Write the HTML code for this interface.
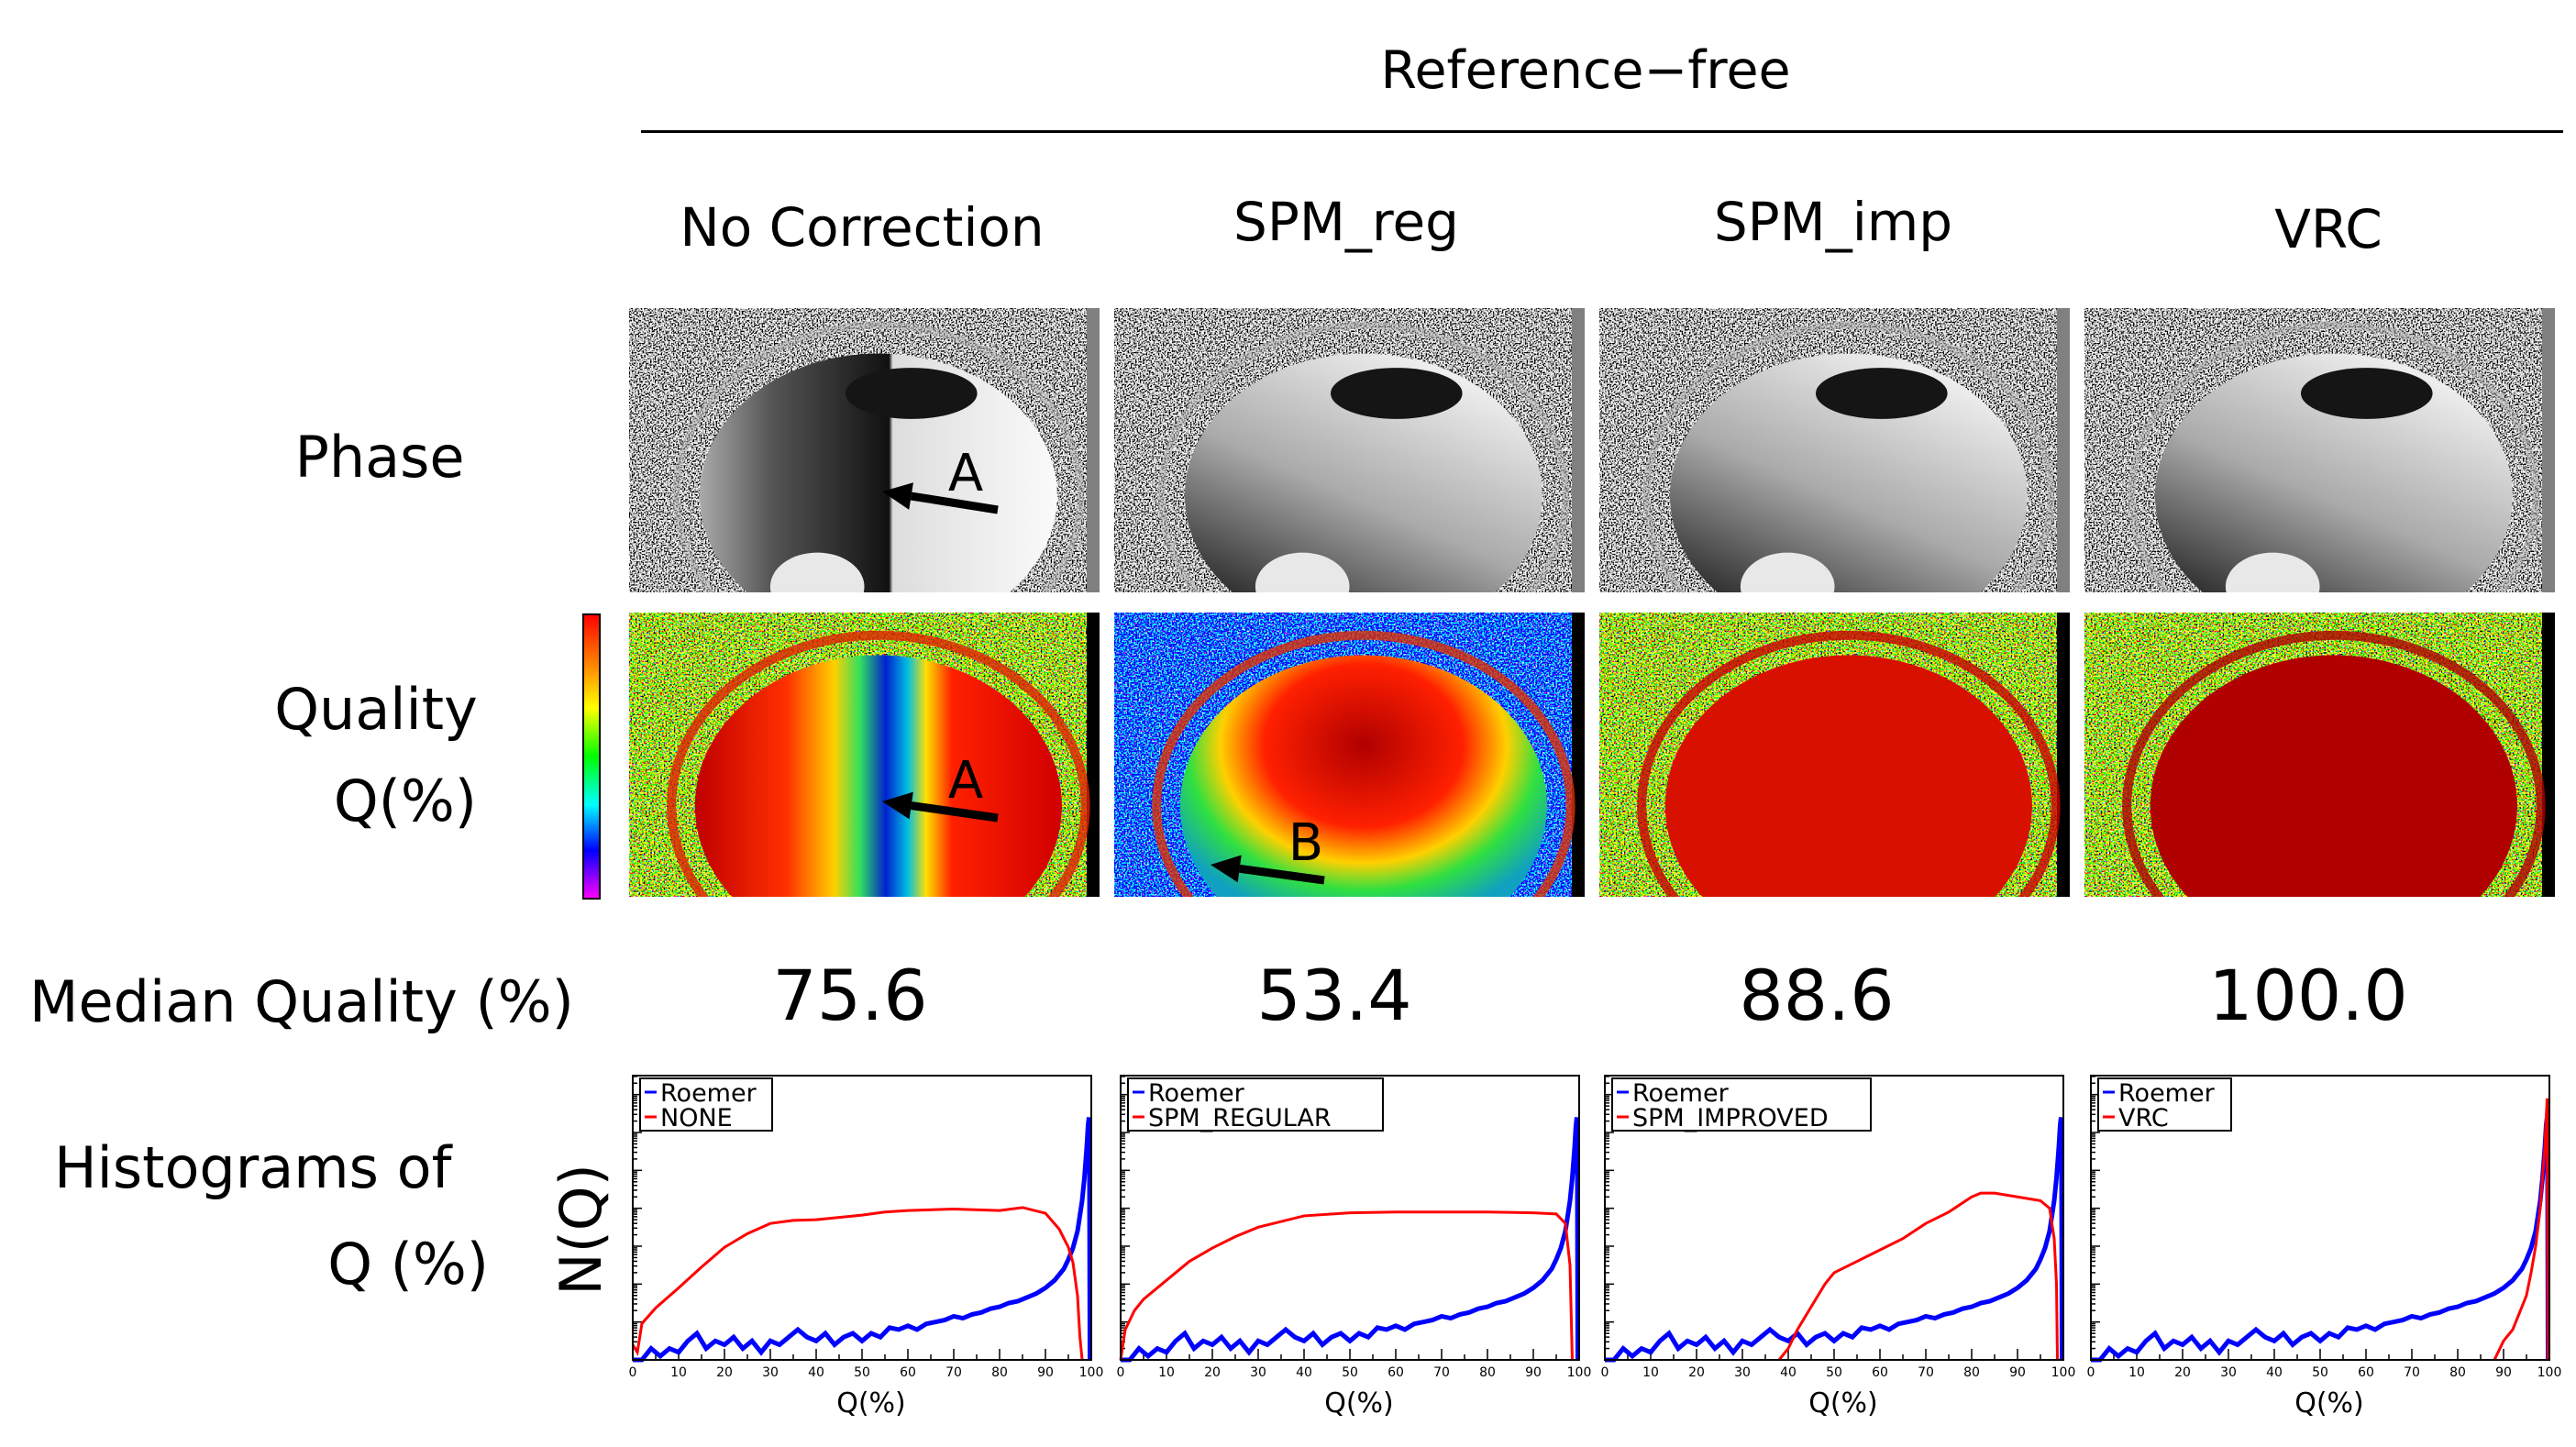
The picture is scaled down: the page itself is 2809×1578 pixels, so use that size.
<!DOCTYPE html>
<html><head><meta charset="utf-8"><style>
html,body{margin:0;padding:0;background:#fff}
svg{display:block}
text{font-family:"DejaVu Sans","Liberation Sans",sans-serif;fill:#000}
</style></head><body>
<svg id="fig" width="2809" height="1578" viewBox="0 0 2809 1578" xmlns="http://www.w3.org/2000/svg">
<defs>
<filter id="grayNoise" x="0" y="0" width="100%" height="100%">
<feTurbulence type="fractalNoise" baseFrequency="0.6" numOctaves="1" seed="4"/>
<feColorMatrix type="matrix" values="5 0 0 0 -2.0  5 0 0 0 -2.0  5 0 0 0 -2.0  0 0 0 0 1"/>
</filter>
<filter id="colorNoise" x="0" y="0" width="100%" height="100%">
<feTurbulence type="fractalNoise" baseFrequency="0.55" numOctaves="1" seed="7"/>
<feColorMatrix type="matrix" values="8 0 0 0 -3.5  0 8 0 0 -3.0  0 0 8 0 -4.6  0 0 0 0 1"/>
</filter>
<filter id="blueNoise" x="0" y="0" width="100%" height="100%">
<feTurbulence type="fractalNoise" baseFrequency="0.55" numOctaves="1" seed="9"/>
<feColorMatrix type="matrix" values="8 0 0 0 -4.8  0 8 0 0 -3.9  0 0 6 0 -1.2  0 0 0 0 1"/>
</filter>
<linearGradient id="ph1" x1="0" y1="0" x2="1" y2="0">
<stop offset="0" stop-color="#aaa"/><stop offset="0.2" stop-color="#555"/><stop offset="0.53" stop-color="#111"/><stop offset="0.54" stop-color="#ddd"/><stop offset="1" stop-color="#fafafa"/></linearGradient>
<linearGradient id="ph2" x1="0.8" y1="0.1" x2="0.3" y2="1">
<stop offset="0" stop-color="#eee"/><stop offset="0.5" stop-color="#aaa"/><stop offset="1" stop-color="#222"/></linearGradient>
<linearGradient id="q1" x1="0" y1="0" x2="1" y2="0">
<stop offset="0" stop-color="#c00000"/><stop offset="0.25" stop-color="#ff3000"/><stop offset="0.38" stop-color="#ffd000"/><stop offset="0.45" stop-color="#30e060"/><stop offset="0.52" stop-color="#0020d0"/><stop offset="0.58" stop-color="#00c0e0"/><stop offset="0.63" stop-color="#ffe000"/><stop offset="0.7" stop-color="#ff2000"/><stop offset="1" stop-color="#d00000"/></linearGradient>
<radialGradient id="q2" cx="0.5" cy="0.3" r="0.6">
<stop offset="0" stop-color="#b00000"/><stop offset="0.45" stop-color="#ff2000"/><stop offset="0.65" stop-color="#ffd000"/><stop offset="0.8" stop-color="#30e040"/><stop offset="1" stop-color="#10a0c0"/></radialGradient>
<linearGradient id="cbar" x1="0" y1="1" x2="0" y2="0">
<stop offset="0" stop-color="#ff00ff"/><stop offset="0.17" stop-color="#0000ff"/><stop offset="0.33" stop-color="#00ffff"/><stop offset="0.5" stop-color="#00ff00"/><stop offset="0.67" stop-color="#ffff00"/><stop offset="0.83" stop-color="#ff8000"/><stop offset="1" stop-color="#ff0000"/></linearGradient>
</defs>

<text x="1729" y="96" font-size="57" text-anchor="middle">Reference−free</text>
<rect x="699" y="142" width="2096" height="3" fill="#000"/>

<text x="940" y="268" font-size="58" text-anchor="middle">No Correction</text>
<text x="1468" y="262" font-size="58" text-anchor="middle">SPM_reg</text>
<text x="1999" y="262" font-size="58" text-anchor="middle">SPM_imp</text>
<text x="2539" y="270" font-size="58" text-anchor="middle">VRC</text>

<text x="414" y="520" font-size="62" text-anchor="middle">Phase</text>
<text x="410" y="795" font-size="62" text-anchor="middle">Quality</text>
<text x="520" y="895" font-size="62" text-anchor="end">Q(%)</text>
<text x="32" y="1114" font-size="62">Median Quality (%)</text>
<text x="59" y="1295" font-size="62">Histograms of</text>
<text x="533" y="1400" font-size="62" text-anchor="end">Q (%)</text>
<text transform="translate(655,1341) rotate(-90)" font-size="62" text-anchor="middle">N(Q)</text>

<text x="927" y="1112" font-size="76" text-anchor="middle">75.6</text>
<text x="1455" y="1112" font-size="76" text-anchor="middle">53.4</text>
<text x="1981" y="1112" font-size="76" text-anchor="middle">88.6</text>
<text x="2517" y="1112" font-size="76" text-anchor="middle">100.0</text>

<rect x="636" y="670" width="18" height="310" fill="url(#cbar)" stroke="#000" stroke-width="2"/>

<g id="images"></g>
<g id="hists"></g>
</svg>
<script>
// ---- histogram data (log10 counts, decades above axis) ----
const blueQ = [0,2,4,6,8,10,12,14,16,18,20,22,24,26,28,30,32,34,36,38,40,42,44,46,48,50,52,54,56,58,60,62,64,66,68,70,72,74,76,78,80,82,84,86,88,90,92,94,95,96,97,98,98.5,99,99.3,99.5,99.6,99.7];
const blueV = [0,0,0.3,0.1,0.3,0.2,0.5,0.7,0.3,0.5,0.4,0.6,0.3,0.5,0.2,0.5,0.4,0.6,0.8,0.6,0.5,0.7,0.4,0.6,0.7,0.5,0.7,0.6,0.85,0.8,0.9,0.8,0.95,1.0,1.05,1.15,1.1,1.2,1.25,1.35,1.4,1.5,1.55,1.65,1.75,1.9,2.1,2.4,2.65,2.95,3.4,4.2,4.8,5.6,6.2,6.4,5.0,0];
const redQ1 = [0,1,2,5,10,15,20,25,30,35,40,50,55,60,70,80,85,90,93,95,96,97,97.5,98];
const redV1 = [0.4,0.2,0.96,1.37,1.9,2.45,2.97,3.33,3.6,3.68,3.7,3.82,3.9,3.94,3.98,3.94,4.02,3.87,3.45,2.97,2.57,1.69,0.64,0];
const redQ2 = [0,1,3,5,10,15,20,25,30,40,50,60,70,80,90,95,97,98,98.5];
const redV2 = [0,0.8,1.3,1.6,2.1,2.6,2.95,3.25,3.5,3.8,3.88,3.9,3.9,3.9,3.88,3.85,3.6,2.5,0];
const redQ3 = [38,40,42,45,48,50,55,60,65,70,75,80,82,85,90,95,97,98,98.5,98.7];
const redV3 = [0,0.3,0.8,1.4,2.0,2.3,2.6,2.9,3.2,3.6,3.9,4.3,4.4,4.4,4.3,4.2,4.0,3.2,2.0,0];
const redQ4 = [88,90,92,94,95,96,97,98,99,99.5,99.7];
const redV4 = [0,0.5,0.8,1.4,1.7,2.3,3.0,4.0,5.6,6.9,0];
const xTicks = [0,10,20,30,40,50,60,70,80,90,100];
const legendNames = ["NONE","SPM_REGULAR","SPM_IMPROVED","VRC"];
const redSeries = [[redQ1,redV1],[redQ2,redV2],[redQ3,redV3],[redQ4,redV4]];

const NS="http://www.w3.org/2000/svg";
function mk(tag,attrs,parent){const e=document.createElementNS(NS,tag);for(const k in attrs)e.setAttribute(k,attrs[k]);parent.appendChild(e);return e;}

// ---- images ----
const imgX=[686,1215,1744,2273], IW=513, PY=336, QY=668, IH=310;
const imgs=document.getElementById('images');
imgX.forEach((x,i)=>{
  const g=mk('g',{transform:`translate(${x},${PY})`},imgs);
  
  
  const cid='cp'+i; const cp=mk('clipPath',{id:cid},g); mk('rect',{x:0,y:0,width:IW,height:IH},cp);
  const gg=mk('g',{'clip-path':`url(#${cid})`},g);
  mk('rect',{x:0,y:0,width:IW-14,height:IH,fill:'#888',filter:'url(#grayNoise)'},gg);
  mk('rect',{x:IW-14,y:0,width:14,height:IH,fill:'#808080'},gg);
  mk('ellipse',{cx:IW*0.53,cy:IH*0.66,rx:IW*0.43,ry:IH*0.6,fill:'none',stroke:'#b0b0b0','stroke-width':8,opacity:0.5},gg);
  mk('ellipse',{cx:IW*0.53,cy:IH*0.66,rx:IW*0.38,ry:IH*0.5,fill:i==0?'url(#ph1)':'url(#ph2)'},gg);
  mk('ellipse',{cx:IW*0.6,cy:IH*0.3,rx:IW*0.14,ry:IH*0.09,fill:'#151515'},gg);
  mk('ellipse',{cx:IW*0.4,cy:IH*0.98,rx:IW*0.1,ry:IH*0.12,fill:'#e8e8e8'},gg);
  const q=mk('g',{transform:`translate(${x},${QY})`},imgs);
  
  
  const cq='cq'+i; const cpq=mk('clipPath',{id:cq},q); mk('rect',{x:0,y:0,width:IW,height:IH},cpq);
  const qg=mk('g',{'clip-path':`url(#${cq})`},q);
  mk('rect',{x:0,y:0,width:IW-14,height:IH,fill:'#888',filter:i==1?'url(#blueNoise)':'url(#colorNoise)'},qg);
  mk('rect',{x:IW-14,y:0,width:14,height:IH,fill:'#000'},qg);
  let ring = ['#e02000','#e03000','#cc0000','#b00000'][i];
  mk('ellipse',{cx:IW*0.53,cy:IH*0.68,rx:IW*0.44,ry:IH*0.6,fill:'none',stroke:ring,'stroke-width':10,opacity:0.8},qg);
  let fill = i==0?'url(#q1)':i==1?'url(#q2)':(i==2?'#d81000':'#b00000');
  mk('ellipse',{cx:IW*0.53,cy:IH*0.68,rx:IW*0.39,ry:IH*0.53,fill:fill},qg);
});
function arrow(x1,y1,x2,y2,name){
  const a=mk('g',{},imgs);
  
  
  const ang=Math.atan2(y2-y1,x2-x1), L=32, W=15;
  const bx=x2-L*Math.cos(ang), by=y2-L*Math.sin(ang);
  mk('line',{x1:x1,y1:y1,x2:bx,y2:by,stroke:'#000','stroke-width':9},a);
  mk('polygon',{points:`${x2},${y2} ${bx+W*Math.sin(ang)},${by-W*Math.cos(ang)} ${bx-W*Math.sin(ang)},${by+W*Math.cos(ang)}`,fill:'#000'},a);
}
arrow(1088,556,962,536,'arrow-a-phase');
const tA=mk('text',{x:1053,y:535,'font-size':56,'text-anchor':'middle'},imgs); tA.textContent='A';
 
arrow(1088,892,962,874,'arrow-a-quality');
const tA2=mk('text',{x:1053,y:870,'font-size':56,'text-anchor':'middle'},imgs); tA2.textContent='A';
 
arrow(1444,960,1320,943,'arrow-b-quality');
const tB=mk('text',{x:1424,y:938,'font-size':56,'text-anchor':'middle'},imgs); tB.textContent='B';
 

// ---- histograms ----
const hX=[690,1222,1750,2280], HW=500, HT=1173, HB=1483, DEC=7.5;
const hists=document.getElementById('hists');
function sx(i,q){return hX[i]+q/100*HW;}
function sy(v){return HB-v/DEC*(HB-HT);}
hX.forEach((x0,i)=>{
  const g=mk('g',{},hists);
  
  
  for(let d=0;d<8;d++){
    for(let m=1;m<10;m++){
      const v=d+Math.log10(m); if(v>DEC) break;
      const y=sy(v), len=m==1?10:5;
      mk('line',{x1:x0,y1:y,x2:x0+len,y2:y,stroke:'#000','stroke-width':1.5},g);
    }
  }
  for(let q=0;q<=100;q+=5){
    const major=q%10==0;
    mk('line',{x1:sx(i,q),y1:HB,x2:sx(i,q),y2:HB-(major?12:6),stroke:'#000','stroke-width':1.5},g);
  }
  xTicks.forEach(q=>{
    const t=mk('text',{x:sx(i,q),y:HB+18,'font-size':14,'text-anchor':'middle'},g);
    t.textContent=q;
    
    
  });
  const xl=mk('text',{x:x0+HW*0.52,y:1540,'font-size':30,'text-anchor':'middle'},g);
  xl.textContent='Q(%)';
  
  
  const pb=blueQ.map((q,k)=>sx(i,q)+','+sy(blueV[k])).join(' ');
  const bl=mk('polyline',{points:pb,fill:'none',stroke:'#0000ff','stroke-width':5},g);
  
  
  const [rq,rv]=redSeries[i];
  const pr=rq.map((q,k)=>sx(i,q)+','+sy(rv[k])).join(' ');
  const rl=mk('polyline',{points:pr,fill:'none',stroke:'#ff0000','stroke-width':3},g);
  
  
  mk('rect',{x:x0,y:HT,width:HW,height:HB-HT,fill:'none',stroke:'#000','stroke-width':2},g);
  const lw=[144,278,282,145][i];
  const lg=mk('g',{},g);
  
  
  mk('rect',{x:x0+8,y:HT+3,width:lw,height:57,fill:'#fff',stroke:'#000','stroke-width':2},lg);
  mk('line',{x1:x0+13,y1:HT+18,x2:x0+26,y2:HT+18,stroke:'#0000ff','stroke-width':3},lg);
  mk('line',{x1:x0+13,y1:HT+45,x2:x0+26,y2:HT+45,stroke:'#ff0000','stroke-width':3},lg);
  const t1=mk('text',{x:x0+30,y:HT+28,'font-size':27},lg); t1.textContent='Roemer';
   
  const t2=mk('text',{x:x0+30,y:HT+55,'font-size':27},lg); t2.textContent=legendNames[i];
   
});
</script>
</body></html>
